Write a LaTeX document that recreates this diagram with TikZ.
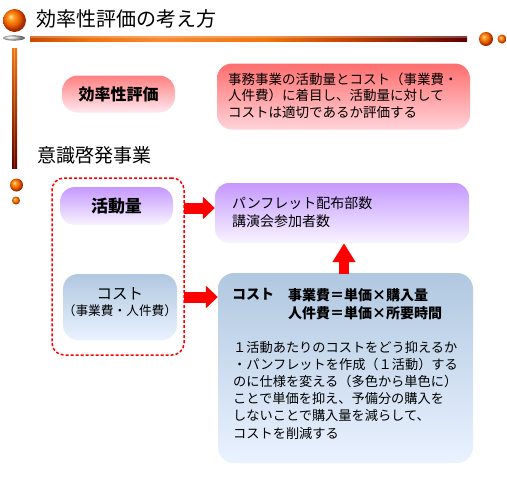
\documentclass[tikz,border=0pt]{standalone}
\usepackage{fontspec}
\newfontfamily\jp{Noto Sans CJK JP}
\usetikzlibrary{arrows.meta}
\definecolor{barA}{HTML}{C84A00}
\definecolor{barB}{HTML}{F07410}
\definecolor{barC}{HTML}{F88A30}
\definecolor{barD}{HTML}{C04000}
\definecolor{barE}{HTML}{5E0000}
\definecolor{ballHi}{HTML}{FFE8B0}
\definecolor{ballMid}{HTML}{FF9A20}
\definecolor{ballC}{HTML}{E85E00}
\definecolor{ballDk}{HTML}{A02A00}
\definecolor{pinkT}{HTML}{FF6E6E}
\definecolor{pinkB}{HTML}{FFD4DA}
\definecolor{pinkT2}{HTML}{FF8080}
\definecolor{pinkB2}{HTML}{FFE8F0}
\definecolor{purT}{HTML}{C598FF}
\definecolor{purB}{HTML}{F8F4FF}
\definecolor{bluT}{HTML}{B0C8E0}
\definecolor{bluB}{HTML}{EAF2FF}
\pgfdeclarehorizontalshading{tbar}{100bp}{color(0bp)=(barA); color(25bp)=(barA); color(32bp)=(barB); color(40bp)=(barC); color(52bp)=(barB); color(62bp)=(barD); color(75bp)=(barE); color(100bp)=(barE)}
\pgfdeclareradialshading{orbsh}{\pgfpoint{-9bp}{9bp}}{color(0bp)=(ballHi); color(7bp)=(ballMid); color(17bp)=(ballC); color(25bp)=(ballDk); color(50bp)=(ballDk)}
\tikzset{
  box/.style={inner sep=0pt, draw=none},
  txt/.style={inner sep=0pt, align=left, anchor=north west},
  bigarrow/.style={draw=red, line width=11pt, -{Triangle[length=12pt,width=22pt]}},
  uparrow/.style={draw=red, line width=10pt, -{Triangle[length=19pt,width=22pt]}},
  orb/.style={shading=orbsh},
}
\begin{document}
\begin{tikzpicture}[x=1pt,y=-1pt]
\useasboundingbox (0,0) rectangle (507,483);
% title decorations
\shade[ball color=gray!35] (14,38) ellipse (11 and 2.6);
\shade[orb] (14.5,20.5) circle (11.5);
\shade[shading=tbar] (30,36) rectangle (467,41.5);
\fill[white, opacity=0.25] (30,36) rectangle (467,37.5);
\shade[orb] (486,39) circle (7);
\shade[orb] (502,39) circle (4.5);
\shade[top color=barB, bottom color=barE] (12,48) rectangle (17,168);
\shade[top color=barC!60!white, bottom color=barD, opacity=0.5] (13.8,48) rectangle (15.2,168);
\shade[orb] (16.5,185) circle (6.5);
\shade[orb] (16,200.5) circle (4);
% titles
\node[txt, anchor=west, font=\jp\fontsize{20}{24}\selectfont] (title) at (36,19) {効率性評価の考え方};
\node[txt, anchor=west, font=\jp\fontsize{19}{23}\selectfont] (sec) at (37,155) {意識啓発事業};
% top row
\node[box, rounded corners=16pt, top color=pinkT2, bottom color=pinkB2, minimum width=113pt, minimum height=37pt,
      font=\jp\bfseries\fontsize{16}{19}\selectfont] (eff) at (118.5,94) {効率性評価};
\node[box, rounded corners=15pt, top color=pinkT, bottom color=pinkB, minimum width=253pt, minimum height=66pt] (effbox) at (343.5,96.5) {};
\node[txt, font=\jp\fontsize{13.5}{16.7}\selectfont] (efftxt) at (228,72.3) {事務事業の活動量とコスト（事業費・\\人件費）に着目し、活動量に対して\\コストは適切であるか評価する};
% left column
\node[box, draw=red, dashed, dash pattern=on 3pt off 2pt, line width=1.5pt, rounded corners=12pt, minimum width=132pt, minimum height=177pt] (dash) at (118,266.5) {};
\node[box, rounded corners=15pt, top color=purT, bottom color=purB, minimum width=113pt, minimum height=38pt,
      font=\jp\bfseries\fontsize{17}{20}\selectfont] (act) at (116.5,206) {活動量};
\node[box, rounded corners=15pt, top color=bluT, bottom color=bluB, minimum width=114pt, minimum height=66pt] (cost) at (120,307) {};
\node[inner sep=0pt, align=center, font=\jp\fontsize{15.5}{15.5}\selectfont] (costtxt) at (120,302) {コスト\\[0pt]{\fontsize{12.7}{15}\selectfont（事業費・人件費）}};
% right column
\node[box, rounded corners=14pt, top color=purT, bottom color=purB, minimum width=254pt, minimum height=60pt] (pb) at (342,213) {};
\node[txt, font=\jp\fontsize{14}{18.4}\selectfont] (pbtxt) at (232,196.3) {パンフレット配布部数\\講演会参加者数};
\node[box, rounded corners=16pt, top color=bluT, bottom color=bluB, minimum width=255pt, minimum height=190pt] (bb) at (345.5,368) {};
\node[txt, font=\jp\bfseries\fontsize{14}{18}\selectfont] (bbh) at (232,288) {コスト};
\node[txt, font=\jp\bfseries\fontsize{14}{18}\selectfont] (bbf) at (288,288) {事業費＝単価×購入量\\人件費＝単価×所要時間};
\node[txt, font=\jp\fontsize{13.2}{17.2}\selectfont] (bbtxt) at (233,340.7) {１活動あたりのコストをどう抑えるか\\・パンフレットを作成（１活動）する\\のに仕様を変える（多色から単色に）\\ことで単価を抑え、予備分の購入を\\しないことで購入量を減らして、\\コストを削減する};
% arrows
\coordinate (a1) at (184,208);
\coordinate (a2) at (184,297);
\coordinate (a3) at (344,273.5);
\draw[bigarrow] (a1) -- (pb.west |- a1);
\draw[bigarrow] (a2) -- (bb.west |- a2);
\draw[uparrow] (a3) -- (pb.south -| a3);
\end{tikzpicture}
\end{document}
